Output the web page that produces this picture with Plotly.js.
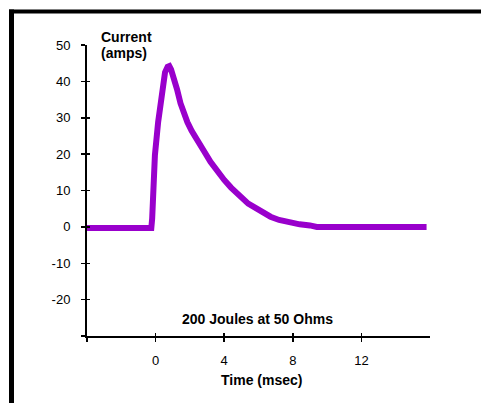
<!DOCTYPE html>
<html>
<head>
<meta charset="utf-8">
<script src="https://cdn.plot.ly/plotly-3.0.1.min.js"></script>
<style>
  html, body { margin: 0; padding: 0; background: #fff; }
  #chart { width: 481px; height: 403px; }
</style>
</head>
<body>
<div id="chart"></div>
<script>
// Data (time in msec, current in amps)
const timeMs = [-4, -0.25, -0.2, -0.14, -0.04, 0.15, 0.35, 0.55, 0.7, 0.8, 0.9, 1.05, 1.25, 1.45, 1.65, 1.85, 2.1, 2.4, 2.8, 3.2, 3.6, 4.0, 4.4, 4.9, 5.4, 5.9, 6.3, 6.7, 7.2, 7.8, 8.4, 9.0, 9.4, 15.8];
const currentA = [-0.3, -0.3, 2.3, 8.7, 19.7, 28.9, 37.2, 42.5, 44.0, 44.2, 43.3, 41.2, 37.8, 34.0, 30.8, 28.8, 26.4, 23.8, 21.0, 17.9, 15.2, 12.9, 10.8, 8.3, 6.4, 5.0, 3.8, 2.8, 1.9, 1.1, 0.7, 0.4, 0.0, 0.0];

const xTickVals = [-4, 0, 4, 8, 12];
const xTickText = ['', '0', '4', '8', '12'];
const yTickVals = [-30, -20, -10, 0, 10, 20, 30, 40, 50];
const yTickText = ['', '-20', '-10', '0', '10', '20', '30', '40', '50'];

const W = 481, H = 403;
const M = {l: 87, r: 51, t: 45, b: 67};
const PW = W - M.l - M.r, PH = H - M.t - M.b;
const px = X => (X - M.l) / PW;
const py = Y => (H - M.b - Y) / PH;

const FONT = 'Liberation Sans, Arial, sans-serif';
const purple = '#9900CC';

const trace = {
  x: timeMs, y: currentA, type: 'scatter', mode: 'lines',
  line: {color: purple, width: 6, shape: 'linear'}, hoverinfo: 'skip', showlegend: false
};
const dummy = {x: [-4], y: [0], xaxis: 'x2', yaxis: 'y2', mode: 'markers',
  marker: {opacity: 0}, hoverinfo: 'skip', showlegend: false};

const axisCommon = {showgrid: false, zeroline: false, showline: true,
  linecolor: '#000', linewidth: 2, tickcolor: '#000', tickwidth: 1.5,
  tickfont: {family: FONT, size: 13, color: '#000'}, fixedrange: true};

const layout = {
  width: W, height: H,
  margin: M,
  paper_bgcolor: '#fff', plot_bgcolor: '#fff',
  font: {family: FONT, color: '#000'},
  xaxis: Object.assign({}, axisCommon, {range: [-4, 16], tickmode: 'array',
    tickvals: xTickVals, ticktext: xTickText, ticks: 'outside', ticklen: 4,
    ticklabelstandoff: 7, anchor: 'y'}),
  yaxis: Object.assign({}, axisCommon, {range: [-30, 50], tickmode: 'array',
    tickvals: yTickVals, ticktext: yTickText, ticks: 'outside', ticklen: 4,
    ticklabelstandoff: 8, anchor: 'x'}),
  xaxis2: Object.assign({}, axisCommon, {range: [-4, 16], overlaying: 'x',
    tickmode: 'array', tickvals: xTickVals, ticks: 'inside', ticklen: 3,
    showticklabels: false, showline: false, anchor: 'y2'}),
  yaxis2: Object.assign({}, axisCommon, {range: [-30, 50], overlaying: 'y',
    tickmode: 'array', tickvals: yTickVals, ticks: 'inside', ticklen: 3,
    showticklabels: false, showline: false, anchor: 'x2', side: 'left'}),
  shapes: [
    {type: 'line', xref: 'paper', yref: 'paper', x0: px(11.5), x1: px(11.5),
     y0: py(9.5), y1: py(410), line: {color: '#000', width: 5}},
    {type: 'line', xref: 'paper', yref: 'paper', x0: px(9), x1: px(490),
     y0: py(11.5), y1: py(11.5), line: {color: '#000', width: 4}}
  ],
  annotations: [
    {text: '<b>Current</b>', xref: 'paper', yref: 'paper', x: px(99), y: py(36.5),
     xanchor: 'left', yanchor: 'middle', showarrow: false,
     font: {family: FONT, size: 14, color: '#000'}},
    {text: '<b>(amps)</b>', xref: 'paper', yref: 'paper', x: px(99), y: py(53),
     xanchor: 'left', yanchor: 'middle', showarrow: false,
     font: {family: FONT, size: 14, color: '#000'}},
    {text: '<b>200 Joules at 50 Ohms</b>', xref: 'paper', yref: 'paper', x: px(257), y: py(318.5),
     xanchor: 'center', yanchor: 'middle', showarrow: false,
     font: {family: FONT, size: 14, color: '#000'}},
    {text: '<b>Time (msec)</b>', xref: 'paper', yref: 'paper', x: px(261), y: py(380),
     xanchor: 'center', yanchor: 'middle', showarrow: false,
     font: {family: FONT, size: 14, color: '#000'}}
  ]
};

Plotly.newPlot('chart', [trace, dummy], layout, {displayModeBar: false, staticPlot: true});
</script>
</body>
</html>
